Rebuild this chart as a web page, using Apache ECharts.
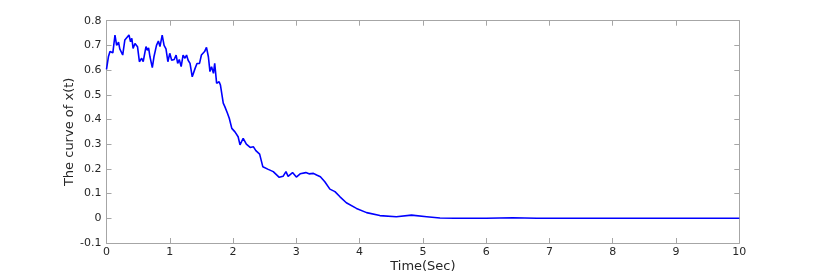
<!DOCTYPE html>
<html><head><meta charset="utf-8">
<script src="https://cdn.jsdelivr.net/npm/echarts@6/dist/echarts.min.js"></script>
<style>html,body{margin:0;padding:0;background:#fff}#c{width:817px;height:273px}</style>
</head><body><div id="c"></div>
<script>
var timeSec = [0,0.03,0.055,0.1,0.134,0.16,0.19,0.21,0.256,0.29,
0.32,0.355,0.38,0.40,0.42,0.45,0.49,0.52,0.556,0.58,
0.624,0.645,0.665,0.687,0.724,0.75,0.79,0.82,0.845,0.88,
0.91,0.94,0.97,1.0,1.03,1.07,1.1,1.125,1.15,1.18,
1.21,1.24,1.265,1.29,1.32,1.355,1.40,1.43,1.47,1.5,
1.52,1.55,1.58,1.61,1.635,1.66,1.69,1.71,1.74,1.78,
1.80,1.845,1.87,1.89,1.91,1.94,1.98,2.03,2.08,2.11,
2.16,2.21,2.27,2.32,2.36,2.42,2.47,2.556,2.635,2.73,
2.79,2.836,2.87,2.94,3.0,3.06,3.15,3.2,3.27,3.32,
3.38,3.45,3.53,3.61,3.69,3.79,3.95,4.11,4.32,4.58,
4.82,5.06,5.27,5.5,6.0,6.42,6.8,7.5,8.5,9.5,
10];
var xValues = [0.603,0.654,0.675,0.67,0.742,0.70,0.713,0.686,0.661,0.722,
0.729,0.742,0.715,0.729,0.688,0.708,0.695,0.634,0.648,0.634,
0.695,0.68,0.69,0.654,0.61,0.654,0.70,0.718,0.695,0.742,
0.70,0.686,0.634,0.668,0.64,0.643,0.661,0.627,0.643,0.614,
0.661,0.648,0.661,0.64,0.627,0.573,0.607,0.627,0.627,0.661,
0.656,0.675,0.692,0.654,0.594,0.614,0.587,0.627,0.547,0.553,
0.54,0.466,0.452,0.45,0.426,0.405,0.364,0.35,0.33,0.297,
0.324,0.30,0.287,0.29,0.274,0.26,0.209,0.198,0.189,0.166,
0.17,0.189,0.17,0.185,0.167,0.18,0.185,0.18,0.182,0.175,
0.168,0.148,0.118,0.108,0.087,0.063,0.04,0.023,0.011,0.0065,
0.013,0.0065,0.001,0,0,0.002,0,0,0,0,
0];
var xTicks = [0,1,2,3,4,5,6,7,8,9,10];
var yTicks = [-0.1,0,0.1,0.2,0.3,0.4,0.5,0.6,0.7,0.8];

var data = timeSec.map(function(t,i){return [t,xValues[i]];});
var axisCol = '#a6a6a6', txtCol = '#262626', ff = '"DejaVu Sans", sans-serif';
var fmtY = function(v){return String(Math.round(v*10)/10);};
function lineCfg(){return {show:true, onZero:false, lineStyle:{color:axisCol, width:1}};}
function tickCfg(){return {show:true, inside:true, length:5, lineStyle:{color:axisCol}};}
var chart = echarts.init(document.getElementById('c'), null, {renderer:'canvas'});
chart.setOption({
  animation:false,
  grid:{left:106.5, right:77.7, top:20.7, bottom:30, containLabel:false, outerBoundsMode:'none'},
  xAxis:[{
    type:'value', min:xTicks[0], max:xTicks[xTicks.length-1], interval:1,
    name:'Time(Sec)', nameLocation:'middle', nameGap:17, nameMoveOverlap:false,
    nameTextStyle:{color:txtCol, fontSize:13, fontFamily:ff},
    axisLine:lineCfg(), axisTick:tickCfg(),
    axisLabel:{color:txtCol, fontSize:11, fontFamily:ff, margin:4},
    splitLine:{show:false}
  },{
    type:'value', position:'top', min:xTicks[0], max:xTicks[xTicks.length-1], interval:1,
    axisLine:lineCfg(), axisTick:tickCfg(),
    axisLabel:{show:false}, splitLine:{show:false}
  }],
  yAxis:[{
    type:'value', min:yTicks[0], max:yTicks[yTicks.length-1], interval:0.1,
    name:'The curve of x(t)', nameLocation:'middle', nameGap:30, nameRotate:90, nameMoveOverlap:false,
    nameTextStyle:{color:txtCol, fontSize:13, fontFamily:ff},
    axisLine:lineCfg(), axisTick:tickCfg(),
    axisLabel:{color:txtCol, fontSize:11, fontFamily:ff, margin:5, formatter:fmtY},
    splitLine:{show:false}
  },{
    type:'value', position:'right', min:yTicks[0], max:yTicks[yTicks.length-1], interval:0.1,
    axisLine:lineCfg(), axisTick:tickCfg(),
    axisLabel:{show:false}, splitLine:{show:false}
  }],
  series:[{
    type:'line', data:data, showSymbol:false, symbol:'none',
    lineStyle:{color:'#0000ff', width:1.6}, itemStyle:{color:'#0000ff'}
  }]
});
</script></body></html>
